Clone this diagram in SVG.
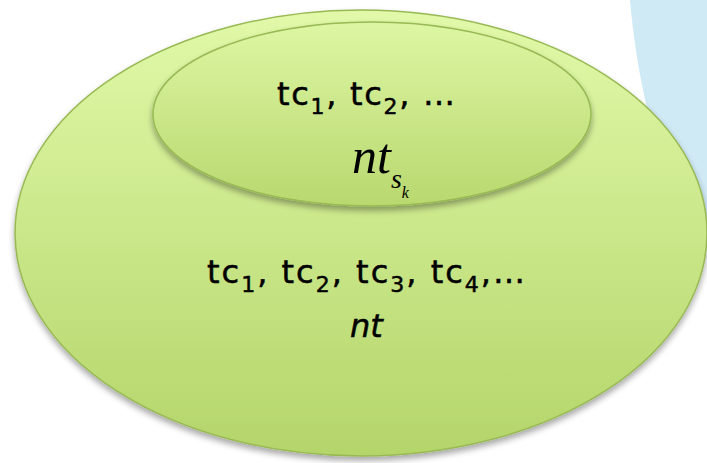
<svg xmlns="http://www.w3.org/2000/svg" width="707" height="463" viewBox="0 0 707 463">
<defs>
<linearGradient id="gOuter" x1="0" y1="0" x2="0" y2="1">
<stop offset="0" stop-color="#E1F9A9"/>
<stop offset="1" stop-color="#B4D56A"/>
</linearGradient>
<linearGradient id="gInner" x1="0" y1="0" x2="0" y2="1">
<stop offset="0" stop-color="#DDF6A3"/>
<stop offset="1" stop-color="#B9D86F"/>
</linearGradient>
<filter id="sh" x="-10%" y="-10%" width="120%" height="125%">
<feGaussianBlur in="SourceAlpha" stdDeviation="3"/>
<feOffset dx="0" dy="4" result="b"/>
<feComponentTransfer><feFuncA type="linear" slope="0.35"/></feComponentTransfer>
<feMerge><feMergeNode/><feMergeNode in="SourceGraphic"/></feMerge>
</filter>
<style>
.ell{stroke:#98B954;stroke-width:1.5}
.sans{font-family:"DejaVu Sans","Liberation Sans",sans-serif;font-size:32px;fill:#000;stroke:#000;stroke-width:0.5}
.sub{font-size:22px}
.math{font-family:"Liberation Serif","DejaVu Serif",serif;font-style:italic;fill:#000}
</style>
</defs>
<rect width="707" height="463" fill="#FFFFFF"/>
<path d="M630,0 C636,70 652,150 690,240 L707,240 L707,0 Z" fill="#CFE9F5"/>
<g id="outer">
<ellipse cx="361" cy="233" rx="346" ry="223" fill="url(#gOuter)" class="ell" filter="url(#sh)"/>
<text class="sans" x="207" y="283" textLength="318" lengthAdjust="spacing">tc<tspan class="sub" dy="9">1</tspan><tspan dy="-9">, tc</tspan><tspan class="sub" dy="9">2</tspan><tspan dy="-9">, tc</tspan><tspan class="sub" dy="9">3</tspan><tspan dy="-9">, tc</tspan><tspan class="sub" dy="9">4</tspan><tspan dy="-9">,…</tspan></text>
<text class="sans" x="350" y="337" font-style="italic">nt</text>
</g>
<g id="inner">
<ellipse cx="372" cy="114" rx="219" ry="92" fill="url(#gInner)" class="ell" filter="url(#sh)"/>
<text class="sans" x="277" y="105" textLength="178" lengthAdjust="spacing">tc<tspan class="sub" dy="9">1</tspan><tspan dy="-9">, tc</tspan><tspan class="sub" dy="9">2</tspan><tspan dy="-9">, …</tspan></text>
<text class="math" x="352" y="173" font-size="50">nt<tspan font-size="28" dy="15">s</tspan><tspan font-size="16" dy="10">k</tspan></text>
</g>
<g id="connectors"/>
</svg>
